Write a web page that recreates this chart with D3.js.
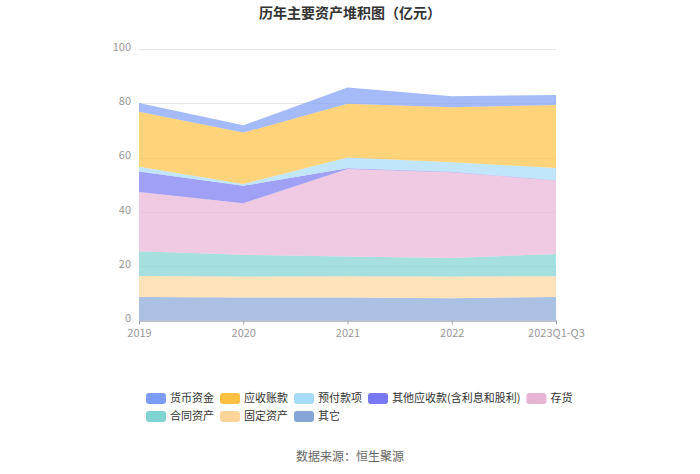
<!DOCTYPE html>
<html>
<head>
<meta charset="utf-8">
<script src="https://cdn.jsdelivr.net/npm/d3@7/dist/d3.min.js"></script>
<style>
  body { margin: 0; background: #fff; }
  svg { font-family: "Microsoft YaHei", "Noto Sans CJK SC", "Noto Sans", sans-serif; }
</style>
</head>
<body>
<div id="chart"></div>
<script>
// Categories and series (亿元), stacked bottom-up
const years = ["2019", "2020", "2021", "2022", "2023Q1-Q3"];
const seriesNames = ["其它", "固定资产", "合同资产", "存货", "其他应收款(含利息和股利)", "预付款项", "应收账款", "货币资金"];
const qita      = [8.7, 8.5, 8.5, 8.2, 8.7];
const guding    = [7.7, 7.7, 7.8, 8.0, 7.6];
const hetong    = [9.1, 8.0, 7.3, 6.8, 8.2];
const cunhuo    = [21.8, 19.0, 32.2, 31.6, 27.1];
const qitaYS    = [7.6, 6.4, 0.3, 0.2, 0.1];
const yufu      = [1.7, 0.7, 3.9, 3.5, 4.5];
const yingshou  = [20.3, 18.9, 19.8, 20.2, 23.2];
const huobi     = [3.2, 2.7, 6.0, 4.1, 3.7];
const yTicks = [0, 20, 40, 60, 80, 100];
// legend order as shown
const legendOrder = ["货币资金", "应收账款", "预付款项", "其他应收款(含利息和股利)", "存货", "合同资产", "固定资产", "其它"];

const colors = {
    "货币资金": "#7d9cf6",
    "应收账款": "#fdc042",
    "预付款项": "#a6dcf8",
    "其他应收款(含利息和股利)": "#7878f2",
    "存货": "#e8b4d6",
    "合同资产": "#7fd3d2",
    "固定资产": "#fdd59b",
    "其它": "#86a6d8"
};

const width = 700, height = 474;
const margin = {left: 139, right: 144, top: 49, bottom: 154};

const svg = d3.select("#chart").append("svg")
    .attr("width", width)
    .attr("height", height);

// Build table for stacking
const valuesBySeries = [qita, guding, hetong, cunhuo, qitaYS, yufu, yingshou, huobi];
const table = years.map((y, i) => {
    const row = {year: y};
    seriesNames.forEach((s, k) => row[s] = valuesBySeries[k][i]);
    return row;
});
const stacked = d3.stack().keys(seriesNames)(table);

const x = d3.scalePoint()
    .domain(years)
    .range([margin.left, width - margin.right]);
const y = d3.scaleLinear()
    .domain([0, 100])
    .range([height - margin.bottom + 0.5, margin.top]);

// Gridlines
svg.append("g")
    .selectAll("line")
    .data(yTicks)
    .enter()
    .append("line")
    .attr("x1", margin.left)
    .attr("x2", width - margin.right)
    .attr("y1", d => Math.round(y(d)) + 0.5)
    .attr("y2", d => Math.round(y(d)) + 0.5)
    .style("stroke", "#e6e6e6");

// Areas
const area = d3.area()
    .x(d => x(d.data.year))
    .y0(d => y(d[0]))
    .y1(d => y(d[1]));

svg.append("g")
    .selectAll("path")
    .data(stacked)
    .enter()
    .append("path")
    .attr("d", area)
    .style("fill", d => colors[d.key])
    .style("fill-opacity", 0.7);

// Y axis labels
svg.append("g")
    .selectAll("text")
    .data(yTicks)
    .enter()
    .append("text")
    .attr("x", margin.left - 8)
    .attr("y", d => y(d) - 2)
    .attr("dy", "0.35em")
    .style("text-anchor", "end")
    .style("font-size", "11px")
    .style("fill", "#999")
    .text(d => d);

// X axis
const xAxis = svg.append("g")
    .attr("transform", `translate(0, ${y(0)})`)
    .call(d3.axisBottom(x).tickSize(4).tickPadding(5).tickSizeOuter(0));
xAxis.select(".domain").style("stroke", "#9aa3b5");
xAxis.selectAll(".tick line").style("stroke", "#9aa3b5");
xAxis.selectAll(".tick text")
    .style("font-size", "11px")
    .style("fill", "#999")
    .style("font-family", "\"Microsoft YaHei\", \"Noto Sans CJK SC\", sans-serif");

// Title
svg.append("text")
    .attr("x", width / 2)
    .attr("y", 18)
    .style("text-anchor", "middle")
    .style("font-size", "14px")
    .style("font-weight", "bold")
    .style("fill", "#333")
    .text("历年主要资产堆积图（亿元）");

// Legend (flows left to right, wraps)
const legend = svg.append("g");
let lx = 146, ly = 398;
const maxX = 600;
legendOrder.forEach(name => {
    const g = legend.append("g");
    g.append("rect")
        .attr("x", 0).attr("y", -5)
        .attr("width", 20).attr("height", 11)
        .attr("rx", 3)
        .style("fill", colors[name]);
    const t = g.append("text")
        .attr("x", 24)
        .attr("dy", "0.35em")
        .style("font-size", "11px")
        .style("fill", "#333")
        .text(name);
    const w = 24 + t.node().getComputedTextLength();
    if (lx + w > maxX) {
        lx = 146;
        ly += 18;
    }
    g.attr("transform", `translate(${lx}, ${ly})`);
    lx += w + 6;
});

// Source
svg.append("text")
    .attr("x", width / 2)
    .attr("y", 461)
    .style("text-anchor", "middle")
    .style("font-size", "12px")
    .style("fill", "#666")
    .text("数据来源：恒生聚源");
</script>
</body>
</html>
